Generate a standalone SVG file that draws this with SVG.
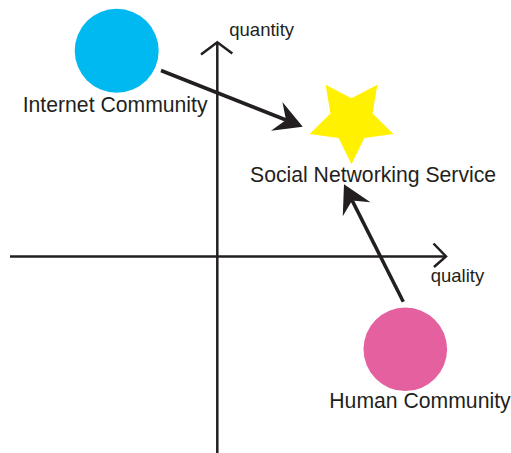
<svg xmlns="http://www.w3.org/2000/svg" width="511" height="453" viewBox="0 0 511 453">
  <style>
    .axis { fill: none; stroke: #231F20; stroke-width: 2.5; }
    .link { fill: none; stroke: #231F20; stroke-width: 3.5; }
    .label { font-family: "Liberation Sans", Arial, sans-serif; fill: #231F20; }
    .big { font-size: 21.2px; }
    .small { font-size: 18.5px; }
  </style>
  <defs>
    <!-- filled concave arrowhead; reference point sits at the notch -->
    <marker id="head" markerUnits="userSpaceOnUse" orient="auto" refX="0" refY="0"
            markerWidth="40" markerHeight="40" overflow="visible">
      <path d="M18 0 L-10 -15.5 L0 0 L-10 15.5 Z" fill="#231F20"/>
    </marker>
  </defs>

  <rect width="511" height="453" fill="#ffffff"/>

  <!-- axes -->
  <g id="axes">
    <line class="axis" x1="10" y1="256.5" x2="445" y2="256.5"/>
    <polyline class="axis" points="433.5,243.5 446,256.5 434,267"/>
    <line class="axis" x1="217.3" y1="43" x2="217.3" y2="453"/>
    <polyline class="axis" points="201,54.5 217.3,42.3 232.3,53.5"/>
    <text class="label small" x="229.3" y="36">quantity</text>
    <text class="label small" x="430.7" y="281.7">quality</text>
  </g>

  <!-- connectors -->
  <g id="connectors">
    <line class="link" x1="161" y1="70.5" x2="286" y2="120" marker-end="url(#head)"/>
    <line class="link" x1="403.3" y1="301.7" x2="352.1" y2="200.4" marker-end="url(#head)"/>
  </g>

  <g id="internet-community">
    <circle cx="116.7" cy="50.7" r="42" fill="#00B9F0"/>
    <text class="label big" x="22.7" y="111.5">Internet Community</text>
  </g>

  <g id="social-networking-service">
    <polygon fill="#FFF100" points="351.5,164.3 338.6,138.1 309.6,133.9 330.5,113.5 325.6,84.7 351.5,98.3 377.4,84.7 372.5,113.5 393.4,133.9 364.4,138.1"/>
    <text class="label big" x="250" y="181.7">Social Networking Service</text>
  </g>

  <g id="human-community">
    <circle cx="405.3" cy="349.3" r="41.8" fill="#E4609F"/>
    <text class="label big" x="329.3" y="408.3">Human Community</text>
  </g>
</svg>
